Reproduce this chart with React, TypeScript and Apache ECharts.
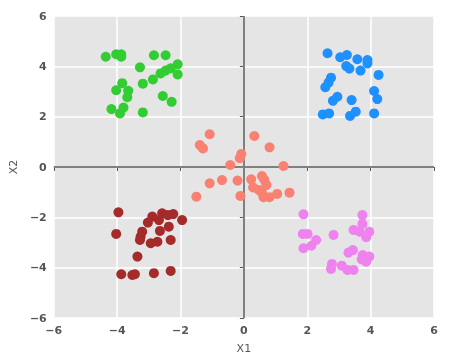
import React, { useEffect, useRef } from "react";
import * as echarts from "echarts";

const greenX = [-4.36, -4.03, -3.87, -3.87, -2.84, -2.47, -3.28, -2.09, -2.31, -2.47, -2.63, -2.87, -2.09, -3.19, -3.84, -4.03, -3.65, -3.68, -2.56, -2.28, -4.18, -3.8, -3.91, -3.19];
const greenY = [4.38, 4.48, 4.48, 4.38, 4.44, 4.44, 3.96, 4.08, 3.92, 3.83, 3.72, 3.48, 3.68, 3.31, 3.33, 3.05, 3.03, 2.77, 2.82, 2.59, 2.3, 2.36, 2.13, 2.17];

const blueX = [2.64, 3.04, 3.25, 3.58, 3.9, 3.9, 3.23, 3.33, 3.68, 4.25, 2.75, 2.67, 2.57, 4.11, 4.21, 2.95, 2.81, 3.4, 2.49, 2.69, 3.35, 3.53, 4.11];
const blueY = [4.52, 4.36, 4.45, 4.28, 4.25, 4.12, 4.01, 3.91, 3.83, 3.66, 3.55, 3.35, 3.17, 3.02, 2.7, 2.79, 2.63, 2.66, 2.09, 2.13, 2.03, 2.2, 2.13];

const salmonX = [-1.08, 0.33, -1.39, -1.29, 0.81, -0.08, -0.13, -0.43, 1.25, 0.57, 0.23, 0.65, -0.69, -0.2, -1.08, 0.71, 0.29, 0.47, 0.57, 1.05, 1.44, -1.5, -0.11, 0.62, 0.81];
const salmonY = [1.3, 1.23, 0.87, 0.74, 0.78, 0.52, 0.35, 0.08, 0.04, -0.36, -0.49, -0.52, -0.52, -0.54, -0.65, -0.72, -0.81, -0.91, -1.02, -1.07, -1.02, -1.18, -1.15, -1.2, -1.2];

const brownX = [-3.96, -2.89, -2.58, -2.4, -2.23, -2.68, -3.03, -1.95, -2.37, -2.65, -3.21, -4.03, -3.26, -3.28, -2.94, -2.73, -2.31, -3.36, -3.87, -3.52, -3.44, -2.84, -2.31];
const brownY = [-1.8, -1.97, -1.84, -1.91, -1.87, -2.11, -2.21, -2.11, -2.37, -2.54, -2.57, -2.66, -2.77, -2.9, -3.03, -2.97, -2.9, -3.56, -4.26, -4.29, -4.26, -4.22, -4.13];

const violetX = [1.88, 3.74, 3.74, 3.46, 3.65, 3.96, 3.86, 1.86, 2.01, 2.83, 2.28, 2.13, 1.88, 3.44, 3.3, 3.75, 3.96, 3.72, 3.86, 2.78, 2.75, 3.09, 3.27, 3.46];
const violetY = [-1.88, -1.91, -2.26, -2.5, -2.57, -2.57, -2.79, -2.66, -2.66, -2.7, -2.9, -3.13, -3.23, -3.3, -3.4, -3.5, -3.56, -3.67, -3.76, -3.85, -4.05, -3.92, -4.09, -4.09];

const axisTicks = [-6, -4, -2, 0, 2, 4, 6];

const zip = (xs: number[], ys: number[]) => xs.map((x, i) => [x, ys[i]]);

const fmt = (v: number) => String(v).replace("-", "\u2212");

export default function App() {
  const ref = useRef<HTMLDivElement>(null);
  useEffect(() => {
    if (!ref.current) return;
    const chart = echarts.init(ref.current, null, { renderer: "svg" });
    const labelStyle = {
      color: "#555555",
      fontWeight: "bold" as const,
      fontSize: 11,
      fontFamily: "DejaVu Sans",
      formatter: fmt,
    };
    const axisCommon = {
      type: "value" as const,
      min: -6,
      max: 6,
      interval: 2,
      axisLine: { show: false },
      axisTick: { show: true, length: 4, lineStyle: { color: "#555555", width: 1 } },
      splitLine: { show: true, lineStyle: { color: "#ffffff", width: 1.5 } },
      nameLocation: "middle" as const,
      nameTextStyle: { color: "#555555", fontSize: 11, fontFamily: "DejaVu Sans" },
    };
    const sym = 10;
    const mk = (name: string, color: string, xs: number[], ys: number[], extra: any = {}) => ({
      name,
      type: "scatter",
      symbolSize: sym,
      itemStyle: { color, opacity: 1 },
      data: zip(xs, ys),
      ...extra,
    });
    chart.setOption({
      animation: false,
      grid: { left: 53, top: 16, right: 15, bottom: 44, backgroundColor: "#e5e5e5", show: true, borderWidth: 0 },
      xAxis: {
        ...axisCommon,
        name: "X1",
        nameGap: 25,
        axisLabel: { ...labelStyle, margin: 7 },
      },
      yAxis: {
        ...axisCommon,
        name: "X2",
        nameGap: 34,
        axisLabel: { ...labelStyle, margin: 7 },
      },
      series: [
        mk("salmon", "#fa8072", salmonX, salmonY, {
          markLine: {
            silent: true,
            symbol: "none",
            label: { show: false },
            lineStyle: { color: "#808080", width: 2, type: "solid" },
            data: [{ xAxis: 0 }, { yAxis: 0 }],
            z: 1,
          },
        }),
        mk("green", "#32cd32", greenX, greenY),
        mk("blue", "#1e90ff", blueX, blueY),
        mk("brown", "#a52a2a", brownX, brownY),
        mk("violet", "#ee82ee", violetX, violetY),
      ],
    });
    return () => chart.dispose();
  }, []);
  return <div ref={ref} style={{ position: "fixed", left: 0, top: 0, width: 449, height: 362 }} />;
}
